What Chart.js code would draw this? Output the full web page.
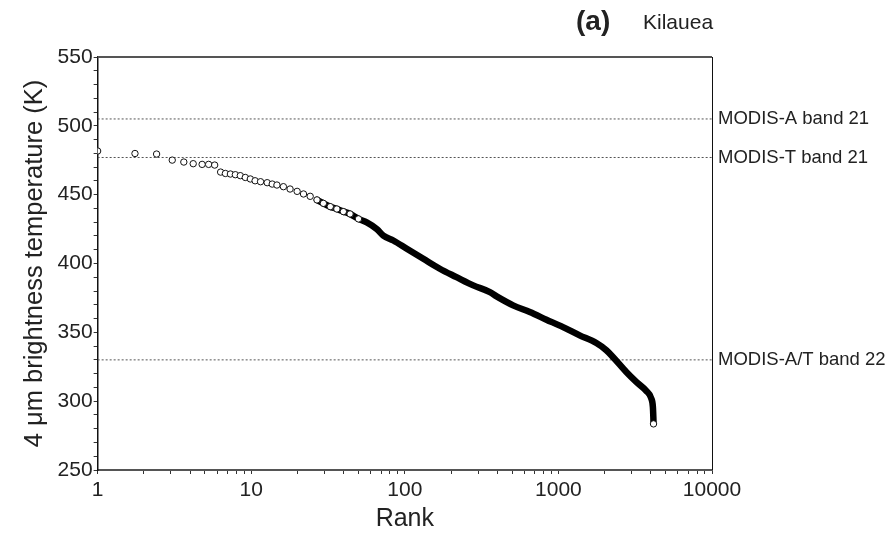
<!DOCTYPE html>
<html>
<head>
<meta charset="utf-8">
<script src="https://cdn.jsdelivr.net/npm/chart.js@4"></script>
<style>
  html, body { margin: 0; padding: 0; background: #fff; }
  #wrap { width: 888px; height: 533px; }
</style>
</head>
<body>
<div id="wrap"><canvas id="chart"></canvas></div>
<script>
// sparse head of the ranking, drawn as open circles
const circleRank = [1, 1.75, 2.42, 3.06, 3.64, 4.19, 4.79, 5.28, 5.78, 6.32, 6.79, 7.32, 7.88, 8.49,
  9.15, 9.87, 10.6, 11.5, 12.7, 13.7, 14.7, 16.2, 17.9, 19.9, 21.9, 24.2, 26.8, 29.5, 32.7, 36.1,
  39.8, 44.0, 49.9, 4161];
const circleTemp = [481.7, 479.9, 479.5, 475.1, 473.7, 472.5, 472.0, 472.0, 471.5, 466.4, 465.4,
  465.0, 464.5, 463.8, 462.5, 461.4, 460.1, 459.4, 458.7, 457.7, 457.0, 455.8, 454.1, 452.4, 450.5,
  448.8, 446.2, 443.7, 441.3, 439.6, 437.7, 436.0, 432.4, 283.5];

// dense part of the ranking (thousands of overlapping points), traced along the band
const bandRank = [26.8, 29.5, 32.7, 36.1, 39.8, 44.0, 49.9, 56.5, 65.6, 72.5, 84.2, 103, 132, 169,
  217, 279, 358, 396, 507, 651, 836, 1072, 1375, 1766, 2051, 2264, 2767, 3213, 3731, 4022, 4121,
  4150, 4161];
const bandTemp = [446.2, 443.7, 441.3, 439.6, 437.7, 436.0, 432.4, 429.9, 425.1, 420.3, 416.7,
  410.7, 403.4, 396.2, 390.1, 384.1, 379.2, 376.1, 369.6, 364.7, 359.2, 353.8, 347.8, 342.2, 337.0,
  332.1, 321.2, 314.0, 307.5, 302.0, 295.9, 288.6, 284.5];

// sensor saturation levels
const refLevels = [505, 477, 330];
const refLabels = ["MODIS-A band 21", "MODIS-T band 21", "MODIS-A/T band 22"];

const xTicks = [1, 10, 100, 1000, 10000];

const FONT = "'Liberation Sans', Arial, sans-serif";
const TEXT = "#222";

function toPoints(xs, ys) {
  return xs.map((x, i) => ({ x, y: ys[i] }));
}

const refDatasets = refLevels.map((level, i) => ({
  type: "line",
  label: refLabels[i],
  data: [{ x: xTicks[0], y: level }, { x: xTicks[xTicks.length - 1], y: level }],
  borderColor: "#555",
  borderWidth: 1,
  borderDash: [2, 2],
  pointRadius: 0,
  order: 3,
}));

const framePlugin = {
  id: "frame",
  afterDraw(chart) {
    const { ctx, chartArea } = chart;
    ctx.save();
    ctx.strokeStyle = "#555";
    ctx.lineWidth = 2;
    ctx.beginPath();
    ctx.moveTo(chartArea.left, chartArea.top);
    ctx.lineTo(chartArea.right, chartArea.top);
    ctx.stroke();
    ctx.strokeStyle = "#111";
    ctx.lineWidth = 1;
    ctx.beginPath();
    ctx.moveTo(chartArea.right + 0.5, chartArea.top);
    ctx.lineTo(chartArea.right + 0.5, chartArea.bottom);
    ctx.stroke();

    // labels of the saturation lines, right of the plot
    const yScale = chart.scales.y;
    ctx.fillStyle = TEXT;
    ctx.font = "18.5px " + FONT;
    ctx.textBaseline = "middle";
    ctx.textAlign = "left";
    refLevels.forEach((level, i) => {
      ctx.fillText(refLabels[i], chartArea.right + 6, yScale.getPixelForValue(level));
    });

    // panel title
    ctx.textBaseline = "alphabetic";
    ctx.font = "bold 28px " + FONT;
    ctx.fillText("(a)", 576, 30);
    ctx.font = "21px " + FONT;
    ctx.fillText("Kilauea", 643, 29);
    ctx.restore();
  },
};

new Chart(document.getElementById("chart"), {
  type: "scatter",
  data: {
    datasets: [
      {
        label: "head",
        data: toPoints(circleRank, circleTemp),
        pointRadius: 3.2,
        pointBorderWidth: 1,
        pointBorderColor: "#111",
        pointBackgroundColor: "#fff",
        showLine: false,
        order: 1,
      },
      {
        type: "line",
        label: "band",
        data: toPoints(bandRank, bandTemp),
        borderColor: "#000",
        borderWidth: 6.5,
        borderCapStyle: "round",
        borderJoinStyle: "round",
        pointRadius: 0,
        cubicInterpolationMode: "monotone",
        order: 2,
      },
      ...refDatasets,
    ],
  },
  options: {
    responsive: true,
    maintainAspectRatio: false,
    animation: false,
    layout: { padding: { top: 57, right: 176, left: 20, bottom: 1 } },
    plugins: {
      legend: { display: false },
      tooltip: { enabled: false },
    },
    scales: {
      x: {
        type: "logarithmic",
        min: 1,
        max: 10000,
        afterBuildTicks: (scale) => {
          scale.ticks = scale.ticks.filter((t) => {
            const s = t.value / Math.pow(10, Math.floor(Math.log10(t.value) + 1e-9));
            return Math.abs(s - Math.round(s)) < 1e-6;
          });
        },
        ticks: {
          autoSkip: false,
          maxRotation: 0,
          color: TEXT,
          font: { family: FONT, size: 21, lineHeight: 1 },
          padding: 6,
          callback: (value) => (xTicks.includes(Number(value)) ? String(value) : ""),
        },
        grid: { drawOnChartArea: false, tickLength: 4, color: "#333" },
        border: { color: "#555", width: 2 },
        title: {
          display: true,
          text: "Rank",
          color: TEXT,
          font: { family: FONT, size: 25, lineHeight: 1 },
          padding: { top: 0, bottom: 0 },
        },
      },
      y: {
        min: 250,
        max: 550,
        ticks: {
          stepSize: 10,
          autoSkip: false,
          color: TEXT,
          font: { family: FONT, size: 21 },
          padding: 1,
          callback: (value) => (value % 50 === 0 ? String(value) : ""),
        },
        grid: { drawOnChartArea: false, tickLength: 4, color: "#333" },
        border: { color: "#111", width: 1.5 },
        title: {
          display: true,
          text: "4 \u03bcm brightness temperature (K)",
          color: TEXT,
          font: { family: FONT, size: 25.5 },
          padding: { top: 0, bottom: 6 },
        },
      },
    },
  },
  plugins: [framePlugin],
});
</script>
</body>
</html>
